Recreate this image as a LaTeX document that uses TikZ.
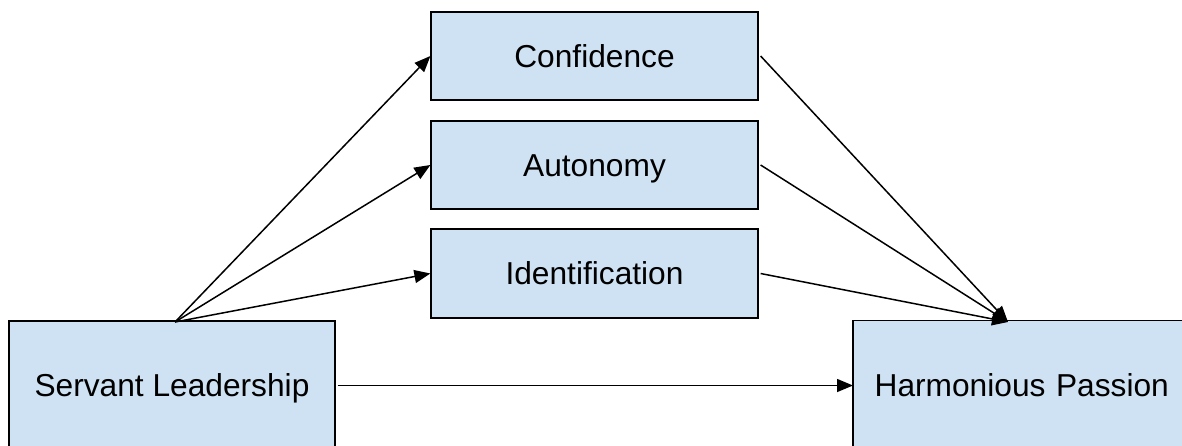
\documentclass[tikz,border=0pt]{standalone}
\usepackage{fontspec}
\setmainfont{Liberation Sans}
\usetikzlibrary{arrows.meta}
\definecolor{boxfill}{HTML}{CFE2F3}
\tikzset{
  box/.style={draw=black, line width=1.2pt, fill=boxfill, inner sep=0pt,
    text height=22.7pt, text depth=0pt,
    font=\fontsize{31.7}{38}\selectfont},
  openbox/.style={box, draw=none},
  edge/.style={draw=black, line width=1.2pt},
  arr/.style={line width=1.5pt, -{Triangle[length=16pt,width=13pt]}}
}
\begin{document}
\begin{tikzpicture}[x=1pt,y=-1pt]
\path[use as bounding box] (0,0) rectangle (1182,445);
\begin{scope}
\clip (0,0) rectangle (1182,445);
\node[box, minimum width=327pt, minimum height=88pt] (conf) at (594.5,56) {Confidence};
\node[box, minimum width=327pt, minimum height=88pt] (auto) at (594.5,165) {Autonomy};
\node[box, minimum width=327pt, minimum height=89pt] (iden) at (594.5,273.5) {Identification};
\node[box, minimum width=326pt, minimum height=129pt] (sl) at (172,385.5) {Servant Leadership};
\node[openbox, anchor=west, inner xsep=21pt, text width=339pt, align=left, minimum height=129pt] (hp) at (853,385.5) {Harmonious Passion};
\draw[edge] (hp.south west) -- (hp.north west) -- (hp.north east);
\coordinate (src) at (175,322);
\coordinate (dst) at (1008,322);
\draw[arr] (src) -- (conf.west);
\draw[arr] (src) -- (auto.west);
\draw[arr] (src) -- (iden.west);
\draw[arr] ([xshift=2pt]conf.east) -- (dst);
\draw[arr] ([xshift=2pt]auto.east) -- (dst);
\draw[arr] ([xshift=2pt]iden.east) -- (dst);
\draw[arr] ([xshift=2pt]sl.east) -- (hp.west);
\end{scope}
\end{tikzpicture}
\end{document}
